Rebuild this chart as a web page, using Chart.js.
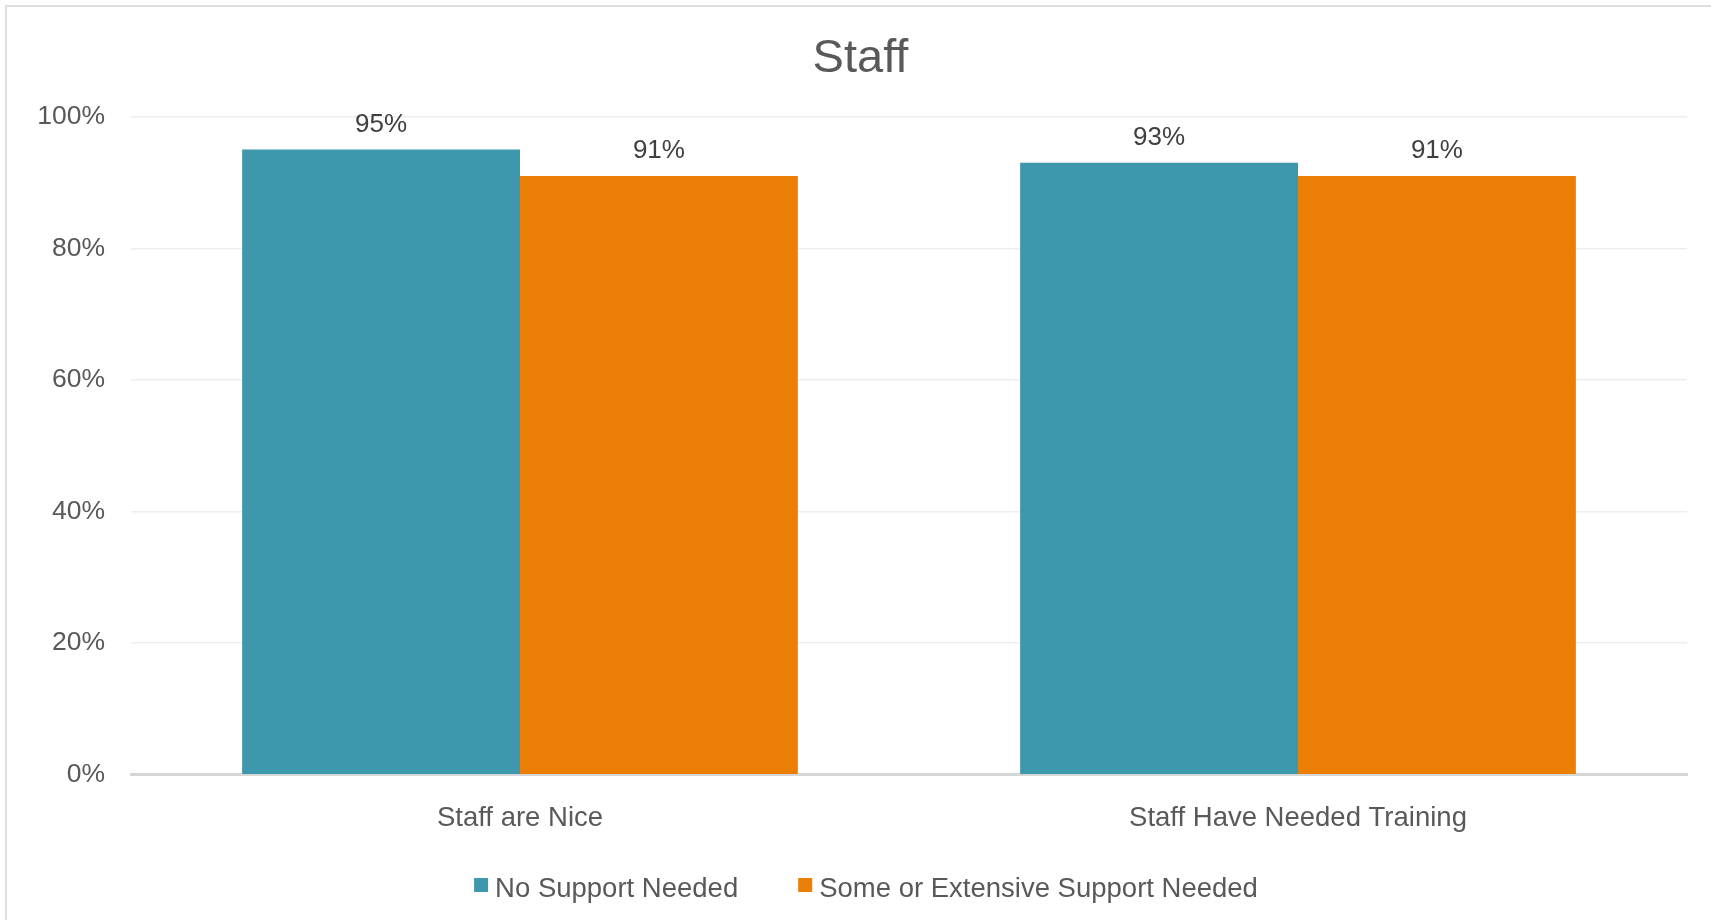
<!DOCTYPE html>
<html>
<head>
<meta charset="utf-8">
<title>Staff</title>
<script src="https://cdn.jsdelivr.net/npm/chart.js@4.4.1/dist/chart.umd.min.js"></script>
<style>
    body { margin: 0; background: #fff; overflow: hidden; }
    #wrap { position: relative; width: 1711px; height: 920px; }
</style>
</head>
<body>
<div id="wrap"><canvas id="main"></canvas></div>
<script>
const categories = ['Staff are Nice', 'Staff Have Needed Training'];
const noSupport = [95, 93];
const someSupport = [91, 91];
const seriesNames = ['No Support Needed', 'Some or Extensive Support Needed'];
const yTicks = [0, 20, 40, 60, 80, 100];

const textGrey = '#595959';
const fontFamily = '"Liberation Sans", Arial, sans-serif';
Chart.defaults.font.family = fontFamily;
Chart.defaults.color = textGrey;

// light frame round the chart, only top and left show in the window
const frame = {
    id: 'frame',
    beforeDraw: (chart) => {
        const ctx = chart.ctx;
        ctx.save();
        ctx.fillStyle = '#fff';
        ctx.fillRect(0, 0, chart.width, chart.height);
        ctx.strokeStyle = '#dedede';
        ctx.lineWidth = 2;
        ctx.beginPath();
        ctx.moveTo(6, chart.height);
        ctx.lineTo(6, 6);
        ctx.lineTo(chart.width, 6);
        ctx.stroke();
        ctx.restore();
    }
};

// percentage written above every bar
const valueLabels = {
    id: 'valueLabels',
    afterDatasetsDraw: (chart) => {
        const ctx = chart.ctx;
        ctx.save();
        ctx.font = '26px ' + fontFamily;
        ctx.fillStyle = '#404040';
        ctx.textAlign = 'center';
        ctx.textBaseline = 'alphabetic';
        chart.data.datasets.forEach((ds, i) => {
            chart.getDatasetMeta(i).data.forEach((bar, j) => {
                ctx.fillText(ds.data[j] + '%', bar.x, bar.y - 17.5);
            });
        });
        ctx.restore();
    }
};

// legend under the axis: small square, short gap, then the name
const legendRow = {
    id: 'legendRow',
    afterDraw: (chart) => {
        const ctx = chart.ctx;
        const box = 14, gap = 7, between = 60, baseline = 897;
        ctx.save();
        ctx.font = '27.5px ' + fontFamily;
        ctx.textBaseline = 'alphabetic';
        const sets = chart.data.datasets;
        let total = 0;
        sets.forEach((ds, i) => {
            total += box + gap + ctx.measureText(ds.label).width + (i > 0 ? between : 0);
        });
        let x = 866 - total / 2;
        sets.forEach((ds) => {
            ctx.fillStyle = ds.backgroundColor;
            ctx.fillRect(x, baseline - 19, box, box);
            ctx.fillStyle = textGrey;
            ctx.fillText(ds.label, x + box + gap, baseline);
            x += box + gap + ctx.measureText(ds.label).width + between;
        });
        ctx.restore();
    }
};

new Chart(document.getElementById('main'), {
    type: 'bar',
    data: {
        labels: categories,
        datasets: [
            {
                label: seriesNames[0],
                data: noSupport,
                backgroundColor: '#3d97ad',
                categoryPercentage: 1 / 1.4,
                barPercentage: 1
            },
            {
                label: seriesNames[1],
                data: someSupport,
                backgroundColor: '#eb7f06',
                categoryPercentage: 1 / 1.4,
                barPercentage: 1
            }
        ]
    },
    options: {
        responsive: true,
        maintainAspectRatio: false,
        animation: false,
        events: [],
        layout: { padding: { top: 0, left: 34, right: 24, bottom: 85 } },
        plugins: {
            title: {
                display: true,
                text: 'Staff',
                color: textGrey,
                font: { size: 47, weight: 'normal' },
                padding: { top: 30.5, bottom: 29.8 }
            },
            legend: { display: false },
            tooltip: { enabled: false }
        },
        scales: {
            x: {
                grid: { display: false, drawTicks: false },
                border: { display: true, color: '#d6d6d6', width: 3 },
                ticks: { color: textGrey, font: { size: 27.5 }, padding: 27.3 },
                afterFit: (scale) => { scale.height = 60.3; }
            },
            y: {
                min: yTicks[0],
                max: yTicks[yTicks.length - 1],
                grid: { color: '#eeeeee', lineWidth: 1.5, drawTicks: false },
                border: { display: false },
                ticks: {
                    stepSize: yTicks[1] - yTicks[0],
                    color: textGrey,
                    font: { size: 26.5 },
                    padding: 26,
                    callback: (v) => v + '%'
                },
                afterFit: (scale) => { scale.width = 97; }
            }
        }
    },
    plugins: [frame, valueLabels, legendRow]
});
</script>
</body>
</html>
